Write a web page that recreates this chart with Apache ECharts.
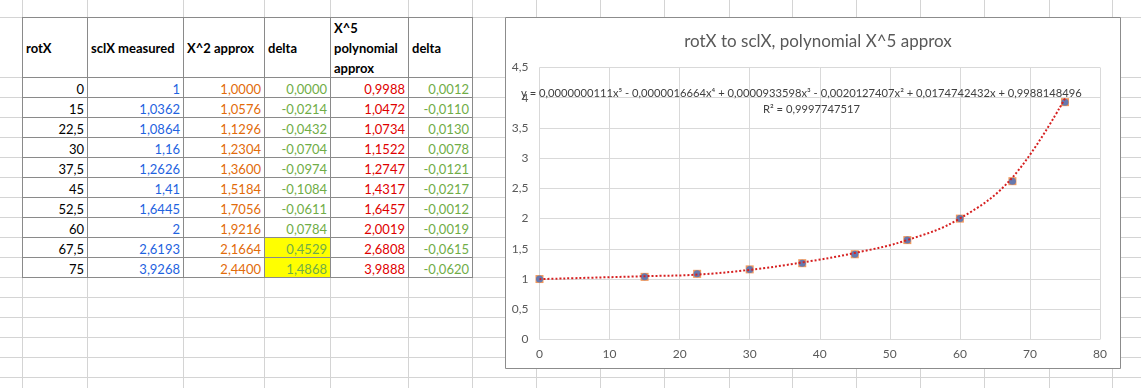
<!DOCTYPE html>
<html>
<head>
<meta charset="utf-8">
<script src="https://cdn.jsdelivr.net/npm/echarts@6/dist/echarts.min.js"></script>
<style>
  html, body { margin: 0; padding: 0; width: 1141px; height: 388px; overflow: hidden; background: #ffffff; }
  #sheet { position: absolute; left: 0; top: 0; width: 1141px; height: 388px; z-index: 1; }
  #chart { position: absolute; left: 0; top: 0; width: 1141px; height: 388px; z-index: 2; }
  .ln { position: absolute; }
  .cell { position: absolute; box-sizing: border-box; display: flex; align-items: center;
          font-family: Lato, "Noto Sans", sans-serif; font-size: 13px; white-space: nowrap; }
  .num { justify-content: flex-end; padding-right: 3px; padding-top: 2px; }
  .hdr { justify-content: flex-start; padding-left: 3px; font-weight: bold; color: #000; line-height: 20px; }
</style>
</head>
<body>
<div id="sheet"></div>
<div id="chart"></div>
<script>
// ---------------- data ----------------
const rotX = [0, 15, 22.5, 30, 37.5, 45, 52.5, 60, 67.5, 75];
const sclXMeasured = [1, 1.0362, 1.0864, 1.16, 1.2626, 1.41, 1.6445, 2, 2.6193, 3.9268];
const x2Approx = [1.0000, 1.0576, 1.1296, 1.2304, 1.3600, 1.5184, 1.7056, 1.9216, 2.1664, 2.4400];
const delta2 = [0.0000, -0.0214, -0.0432, -0.0704, -0.0974, -0.1084, -0.0611, 0.0784, 0.4529, 1.4868];
const x5Approx = [0.9988, 1.0472, 1.0734, 1.1522, 1.2747, 1.4317, 1.6457, 2.0019, 2.6808, 3.9888];
const delta5 = [0.0012, -0.0110, 0.0130, 0.0078, -0.0121, -0.0217, -0.0012, -0.0019, -0.0615, -0.0620];
const headers = ['rotX', 'sclX measured', 'X^2 approx', 'delta', 'X^5<br>polynomial<br>approx', 'delta'];
const highlightRows = [8, 9];
const chartTitle = 'rotX to sclX, polynomial X^5 approx';
const equationText = 'y = 0,0000000111x\u2075 - 0,0000016664x\u2074 + 0,0000933598x\u00b3 - 0,0020127407x\u00b2 + 0,0174742432x + 0,9988148496';
const r2Text = 'R\u00b2 = 0,9997747517';

// ---------------- spreadsheet layer ----------------
const sheet = document.getElementById('sheet');
const gridX = [22, 87, 183, 264, 330, 408, 472, 536, 600, 664, 729, 792, 856, 920, 984, 1049, 1112];
const gridY = [17, 77, 97, 117, 137, 157, 177, 197, 217, 237, 257, 277, 297, 317, 337, 357, 377];
const tableX = [22, 87, 183, 264, 330, 408, 472];
const headTop = 17, headBottom = 77, rowH = 20;
const colColors = ['#000000', '#1f63e0', '#e26b0a', '#70ad47', '#e00000', '#70ad47'];

function addLine(x, y, w, h, color) {
  const d = document.createElement('div');
  d.className = 'ln';
  d.style.left = x + 'px'; d.style.top = y + 'px';
  d.style.width = w + 'px'; d.style.height = h + 'px';
  d.style.background = color;
  sheet.appendChild(d);
}
// light gridlines
gridX.forEach(x => addLine(x, 0, 1, 388, '#d4d4d4'));
gridY.forEach(y => addLine(0, y, 1141, 1, '#d4d4d4'));

// yellow highlight
highlightRows.forEach(r => {
  const top = headBottom + r * rowH;
  addLine(tableX[3], top, tableX[4] - tableX[3], rowH, '#ffff00');
});

// table borders
const tableBottom = headBottom + rotX.length * rowH;
tableX.forEach(x => addLine(x, headTop, 1, tableBottom - headTop + 1, '#8a8a8a'));
addLine(tableX[0], headTop, tableX[6] - tableX[0] + 1, 1, '#8a8a8a');
for (let r = 0; r <= rotX.length; r++) {
  addLine(tableX[0], headBottom + r * rowH, tableX[6] - tableX[0] + 1, 1, '#8a8a8a');
}

function addCell(c, top, h, html, cls, color) {
  const d = document.createElement('div');
  d.className = 'cell ' + cls;
  d.style.left = (tableX[c] + 1) + 'px';
  d.style.top = top + 'px';
  d.style.width = (tableX[c + 1] - tableX[c] - 1) + 'px';
  d.style.height = h + 'px';
  if (color) d.style.color = color;
  d.innerHTML = html;
  sheet.appendChild(d);
}
headers.forEach((h, c) => addCell(c, headTop + 1, headBottom - headTop - 1, h, 'hdr'));

const fmtGeneral = v => String(v).replace('.', ',');
const fmt4 = v => v.toFixed(4).replace('.', ',');
const cols = [
  rotX.map(fmtGeneral),
  sclXMeasured.map(fmtGeneral),
  x2Approx.map(fmt4),
  delta2.map(fmt4),
  x5Approx.map(fmt4),
  delta5.map(fmt4)
];
cols.forEach((col, c) => {
  col.forEach((txt, r) => addCell(c, headBottom + r * rowH + 1, rowH - 1, txt, 'num', colColors[c]));
});

// ---------------- chart ----------------
const chart = echarts.init(document.getElementById('chart'), null, { renderer: 'canvas' });
const measuredPts = rotX.map((x, i) => [x, sclXMeasured[i]]);
const trendPts = rotX.map((x, i) => [x, x5Approx[i]]);
const labelFont = 'Lato, "Noto Sans", sans-serif';

chart.setOption({
  animation: false,
  backgroundColor: 'transparent',
  title: {
    text: chartTitle,
    left: 813,
    textAlign: 'center',
    top: 28,
    textStyle: { fontFamily: labelFont, fontSize: 17, fontWeight: 'normal', color: '#595959' }
  },
  graphic: [
    {
      type: 'rect', z: -10, silent: true,
      shape: { x: 505.5, y: 17.5, width: 615, height: 351 },
      style: { fill: '#ffffff', stroke: '#8c8c8c', lineWidth: 1 }
    },
    {
      type: 'text', z: 100, left: 521, top: 88,
      style: { text: equationText, font: '11.2px ' + labelFont, fill: '#404040' }
    },
    {
      type: 'text', z: 100, left: 763, top: 104,
      style: { text: r2Text, font: '11.2px ' + labelFont, fill: '#404040' }
    }
  ],
  grid: { left: 539.5, right: 41, top: 67.5, bottom: 48.5, containLabel: false },
  xAxis: {
    type: 'value', min: 0, max: 80, interval: 10,
    axisLine: { show: false }, axisTick: { show: false },
    splitLine: { show: true, lineStyle: { color: '#d9d9d9', width: 1 } },
    axisLabel: { color: '#595959', fontSize: 12, fontFamily: labelFont, margin: 9 }
  },
  yAxis: {
    type: 'value', min: 0, max: 4.5, interval: 0.5,
    axisLine: { show: false }, axisTick: { show: false },
    splitLine: { show: true, lineStyle: { color: '#d9d9d9', width: 1 } },
    axisLabel: {
      color: '#595959', fontSize: 12, fontFamily: labelFont, margin: 11,
      formatter: v => String(v).replace('.', ',')
    }
  },
  series: [
    {
      name: 'X^5 polynomial approx marker', type: 'scatter', data: measuredPts,
      symbol: 'rect', symbolSize: 8, itemStyle: { color: '#ed7d31' }, z: 3
    },
    {
      name: 'sclX measured', type: 'scatter', data: measuredPts,
      symbol: 'circle', symbolSize: 7, itemStyle: { color: '#4472c4' }, z: 4
    },
    {
      name: 'Poly. trendline', type: 'line', data: trendPts, smooth: 0.4,
      showSymbol: false, symbol: 'none', z: 5,
      lineStyle: { color: '#d62020', width: 2, type: [2, 2], cap: 'butt' }
    }
  ]
});
</script>
</body>
</html>
